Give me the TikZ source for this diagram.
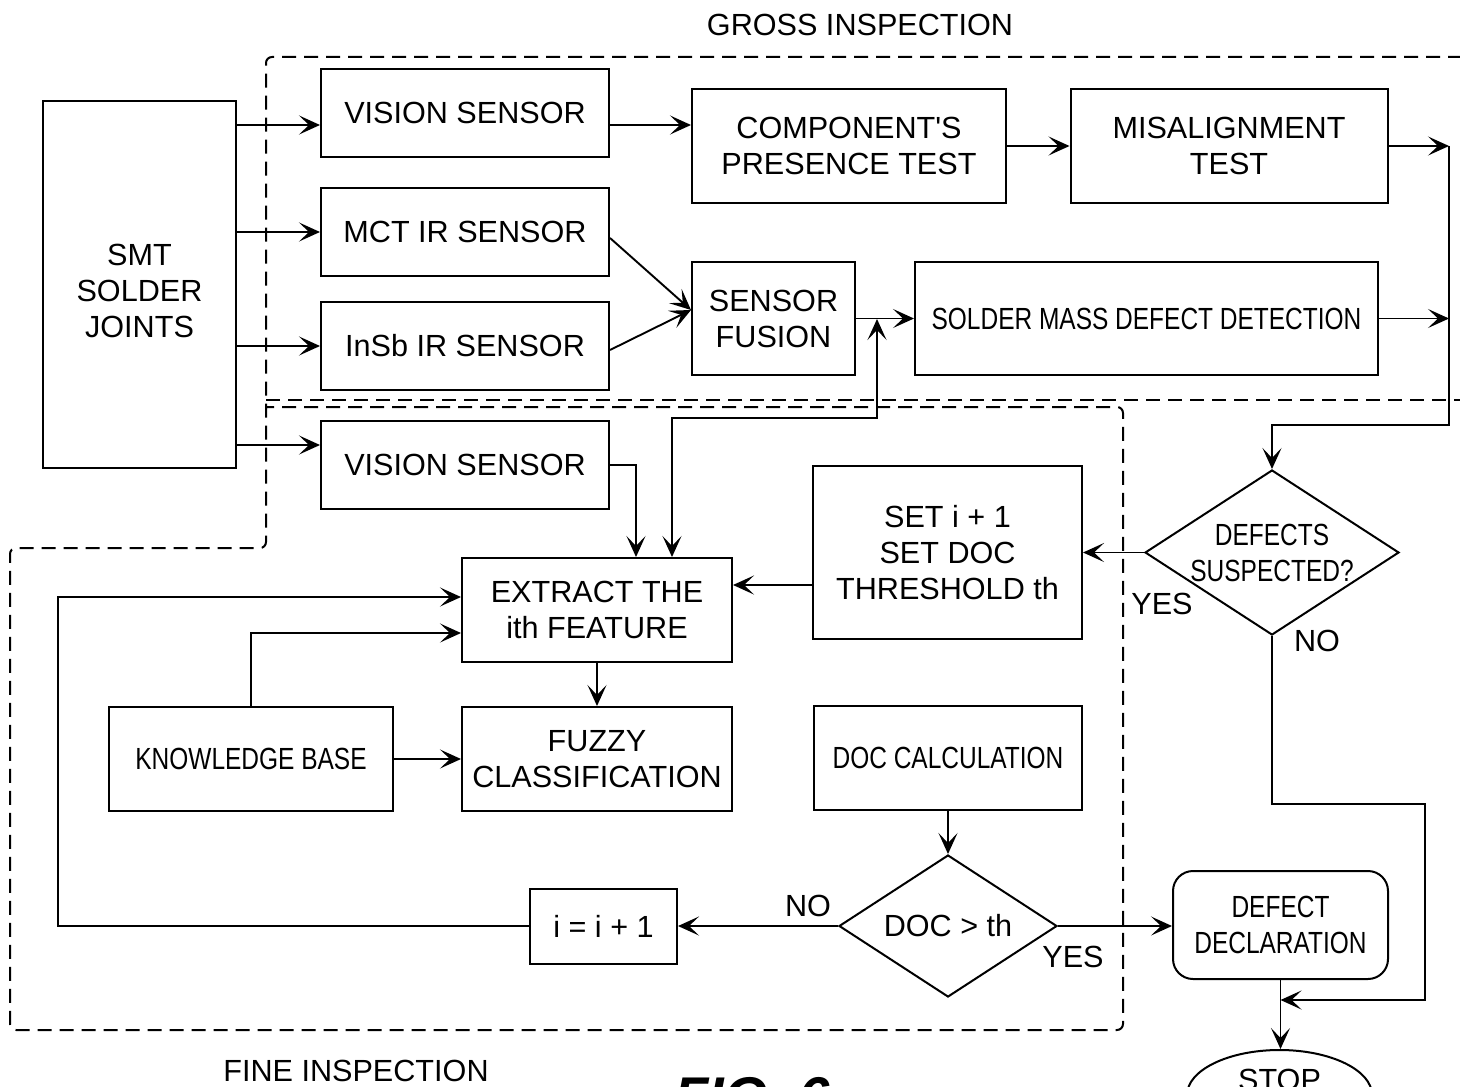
\documentclass[tikz,border=0pt]{standalone}
\usepackage{fontspec}
\setmainfont{Liberation Sans}
\newfontfamily\narrowfont[FakeStretch=0.8]{Liberation Sans}
\usetikzlibrary{arrows.meta,shapes.geometric}

\begin{document}
\begin{tikzpicture}[x=0.5pt,y=-0.5pt,>={Stealth[length=10.5pt,width=9.5pt,inset=5pt]},
  line width=0.95pt,font=\fontsize{15.3}{18}\selectfont,
  main node/.style={draw,line width=1pt,rectangle,align=center,inner sep=0pt},
  sensor node/.style={main node,minimum width=144pt,minimum height=44pt},
  cond node/.style={draw,line width=1pt,diamond,align=center,inner sep=0pt,shape aspect=1.54},
  narrow/.style={font=\narrowfont\fontsize{15.3}{18}\selectfont},
  zone/.style={line width=1pt,dash pattern=on 7pt off 4pt,rounded corners=3pt}]

  \useasboundingbox (0,0) rectangle (1460,1086);

  % gross and fine inspection zones
  \draw[zone] (1462,57) -- (266,57) -- (266,548) -- (10,548) -- (10,1030)
    -- (1123,1030) -- (1123,407) -- (266,407);
  \draw[zone] (266,400) -- (1462,400);
  \node (gross) at (860,25) {GROSS INSPECTION};
  \node (fine) at (356,1071) {FINE INSPECTION};
  \node[font=\bfseries\itshape\fontsize{28}{34}\selectfont,anchor=base] (fig) at (752,1116) {FIG. 6};

  \node[main node,minimum width=96.5pt,minimum height=183.5pt,text height=53pt] (smt) at (139.5,284.5) {SMT\\SOLDER\\JOINTS};
  \node[sensor node] (vis1) at (465,113) {VISION SENSOR};
  \node[sensor node] (mct) [below of=vis1,node distance=59.5pt] {MCT IR SENSOR};
  \node[sensor node] (insb) [below of=mct,node distance=57pt] {InSb IR SENSOR};
  \node[sensor node] (vis2) [below of=insb,node distance=59.5pt] {VISION SENSOR};

  \node[main node,minimum width=157pt,minimum height=57pt] (comp) at (849,146) {COMPONENT\textquotesingle S\\PRESENCE TEST};
  \node[main node,minimum width=158.5pt,minimum height=57pt] (mis) [right of=comp,node distance=190pt] {MISALIGNMENT\\TEST};
  \node[main node,minimum width=81.5pt,minimum height=56.5pt] (fus) at (773.5,318.5) {SENSOR\\FUSION};
  \node[main node,narrow,minimum width=231.5pt,minimum height=56.5pt] (smdd) [right of=fus,node distance=186.5pt] {SOLDER MASS DEFECT DETECTION};

  \node[main node,minimum width=134.5pt,minimum height=86.5pt] (setb) at (947.5,552.5) {SET i + 1\\SET DOC\\THRESHOLD th};
  \node[main node,minimum width=135pt,minimum height=52pt] (ext) at (597,610) {EXTRACT THE\\ith FEATURE};
  \node[main node,minimum width=135pt,minimum height=52pt] (fuz) [below of=ext,node distance=74.5pt] {FUZZY\\CLASSIFICATION};
  \node[main node,narrow,minimum width=142pt,minimum height=52pt] (kb) [left of=fuz,node distance=173pt] {KNOWLEDGE BASE};
  \node[main node,narrow,minimum width=134pt,minimum height=52pt] (doc) at (948,758) {DOC CALCULATION};
  \node[cond node,minimum width=109pt,minimum height=71pt] (dgt) [below of=doc,node distance=84pt] {DOC > th};
  \node[main node,minimum width=73.5pt,minimum height=37.5pt] (inc) at (603.5,926) {i = i + 1};

  \node[cond node,narrow,inner sep=-1pt,minimum width=127pt,minimum height=82.5pt] (dsus) at (1272,552.5) {DEFECTS\\SUSPECTED?};
  \node[main node,narrow,rounded corners=10pt,minimum width=107.5pt,minimum height=54pt] (decl) at (1280.5,925) {DEFECT\\DECLARATION};
  \node[draw,line width=1pt,ellipse,inner sep=0pt,minimum width=92.5pt,minimum height=45pt,
    text height=11pt,text depth=16pt] (stop) at (1279.5,1095) {STOP};

  \node (yes1) at (1162,604) {YES};
  \node (no1) at (1317,641) {NO};
  \node (no2) at (808,906) {NO};
  \node (yes2) at (1073,957) {YES};

  \coordinate (rtop) at (1449,146);
  \coordinate (rbot) at (1449,425);
  \coordinate (jn) at (877,319);
  \coordinate (fbk) at (877,418);
  \coordinate (loop) at (58,926);
  \coordinate (nob) at (1425,804);

  % gross inspection
  \foreach \n/\y in {vis1/125,mct/232,insb/346,vis2/445}
    \draw[->] (smt.east |- 0,\y) -- (\n.west |- 0,\y);
  \draw[->] (vis1.east |- 0,125) -- (comp.west |- 0,125);
  \draw[->] (comp) -- (mis);
  \draw[->] (mct.east |- 0,238) -- (fus.west |- 0,310);
  \draw[->] (insb.east |- 0,350) -- (fus.west |- 0,310);
  \draw[->] (fus) -- (smdd);
  \draw[->] (mis.east) -- (rtop);
  \draw[->] (smdd.east) -- (rtop |- smdd.east);
  \draw[->] (rtop) -- (rbot) -| (dsus.north);

  % fine inspection
  \draw[<->] ([xshift=37.5pt]ext.north) |- (fbk) -- (jn);
  \draw[->] (vis2.east) -| ([xshift=19.5pt]ext.north);
  \draw[->] (dsus) -- (setb);
  \draw[->] (setb.west |- 0,585) -- (ext.east |- 0,585);
  \draw[->] (inc.west) -- (loop) |- (ext.west |- 0,597);
  \draw[->] (kb.north) |- (ext.west |- 0,633);
  \draw[->] (kb) -- (fuz);
  \draw[->] (ext) -- (fuz);
  \draw[->] (doc) -- (dgt);
  \draw[->] (dgt) -- (inc);
  \draw[->] (dgt.east) -- (decl.west |- dgt.east);
  \draw[->] (decl.south) -- (decl.south |- stop.north);
  \draw[->] (dsus.south) |- (nob) |- (decl.south |- 0,1000);

\end{tikzpicture}
\end{document}
